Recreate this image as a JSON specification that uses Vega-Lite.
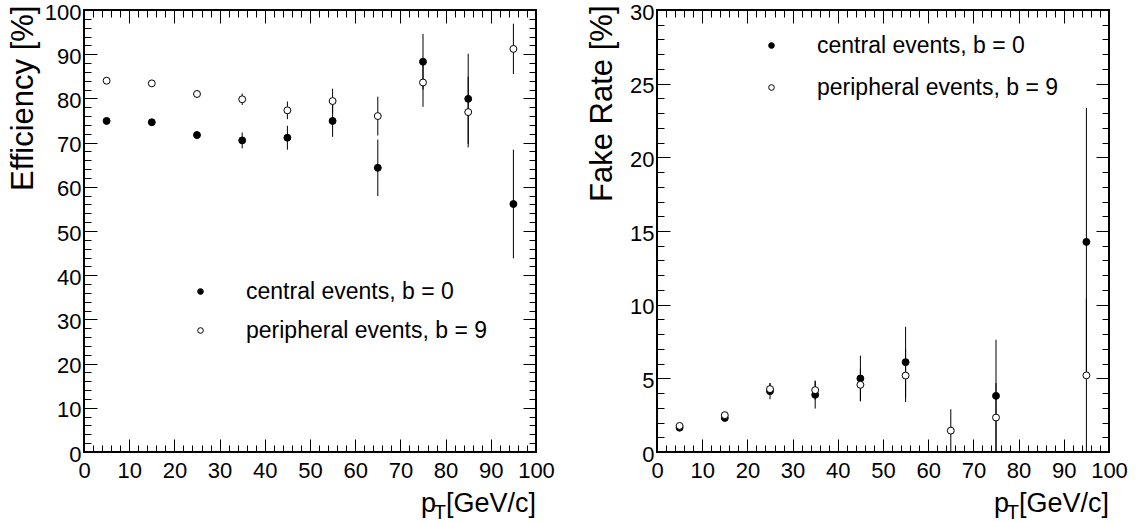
{
  "$schema": "https://vega.github.io/schema/vega-lite/v6.json",
  "background": "white",
  "padding": {"left": 5, "top": 0, "right": 5, "bottom": 5},
  "config": {
    "font": "Liberation Sans",
    "view": {"stroke": "black", "strokeWidth": 2},
    "axis": {"grid": false, "domain": false, "tickColor": "black", "tickWidth": 1, "labelColor": "black", "labelFont": "Liberation Sans", "labelFontSize": 22, "titleFont": "Liberation Sans", "titleFontWeight": "normal", "titleColor": "black", "labelFlush": false, "labelOverlap": false}
  },
  "datasets": {
    "eff": [
      {"pt": 5, "series": "central events, b = 0", "v": 74.9, "lo": 74.3, "hi": 75.5},
      {"pt": 15, "series": "central events, b = 0", "v": 74.6, "lo": 74.0, "hi": 75.2},
      {"pt": 25, "series": "central events, b = 0", "v": 71.7, "lo": 70.9, "hi": 72.5},
      {"pt": 35, "series": "central events, b = 0", "v": 70.5, "lo": 68.7, "hi": 72.3},
      {"pt": 45, "series": "central events, b = 0", "v": 71.1, "lo": 68.4, "hi": 73.8},
      {"pt": 55, "series": "central events, b = 0", "v": 74.9, "lo": 71.3, "hi": 78.5},
      {"pt": 65, "series": "central events, b = 0", "v": 64.3, "lo": 57.9, "hi": 70.7},
      {"pt": 75, "series": "central events, b = 0", "v": 88.3, "lo": 82.0, "hi": 94.6},
      {"pt": 85, "series": "central events, b = 0", "v": 79.9, "lo": 69.7, "hi": 90.1},
      {"pt": 95, "series": "central events, b = 0", "v": 56.1, "lo": 43.8, "hi": 68.4},
      {"pt": 5, "series": "peripheral events, b = 9", "v": 84.0, "lo": 83.5, "hi": 84.5},
      {"pt": 15, "series": "peripheral events, b = 9", "v": 83.4, "lo": 82.8, "hi": 84.0},
      {"pt": 25, "series": "peripheral events, b = 9", "v": 81.0, "lo": 80.2, "hi": 81.8},
      {"pt": 35, "series": "peripheral events, b = 9", "v": 79.8, "lo": 78.5, "hi": 81.1},
      {"pt": 45, "series": "peripheral events, b = 9", "v": 77.3, "lo": 75.3, "hi": 79.3},
      {"pt": 55, "series": "peripheral events, b = 9", "v": 79.4, "lo": 76.6, "hi": 82.2},
      {"pt": 65, "series": "peripheral events, b = 9", "v": 76.0, "lo": 71.6, "hi": 80.4},
      {"pt": 75, "series": "peripheral events, b = 9", "v": 83.6, "lo": 78.1, "hi": 89.1},
      {"pt": 85, "series": "peripheral events, b = 9", "v": 76.9, "lo": 68.9, "hi": 84.9},
      {"pt": 95, "series": "peripheral events, b = 9", "v": 91.2, "lo": 85.5, "hi": 96.9}
    ],
    "fake": [
      {"pt": 5, "series": "central events, b = 0", "v": 1.65, "lo": 1.5, "hi": 1.8},
      {"pt": 15, "series": "central events, b = 0", "v": 2.31, "lo": 2.11, "hi": 2.51},
      {"pt": 25, "series": "central events, b = 0", "v": 4.13, "lo": 3.58, "hi": 4.68},
      {"pt": 35, "series": "central events, b = 0", "v": 3.88, "lo": 2.95, "hi": 4.81},
      {"pt": 45, "series": "central events, b = 0", "v": 4.99, "lo": 3.44, "hi": 6.54},
      {"pt": 55, "series": "central events, b = 0", "v": 6.1, "lo": 3.7, "hi": 8.5},
      {"pt": 75, "series": "central events, b = 0", "v": 3.81, "lo": 0, "hi": 7.62},
      {"pt": 95, "series": "central events, b = 0", "v": 14.26, "lo": 5.16, "hi": 23.36},
      {"pt": 5, "series": "peripheral events, b = 9", "v": 1.77, "lo": 1.62, "hi": 1.92},
      {"pt": 15, "series": "peripheral events, b = 9", "v": 2.5, "lo": 2.3, "hi": 2.7},
      {"pt": 25, "series": "peripheral events, b = 9", "v": 4.27, "lo": 3.87, "hi": 4.67},
      {"pt": 35, "series": "peripheral events, b = 9", "v": 4.2, "lo": 3.55, "hi": 4.85},
      {"pt": 45, "series": "peripheral events, b = 9", "v": 4.56, "lo": 3.46, "hi": 5.66},
      {"pt": 55, "series": "peripheral events, b = 9", "v": 5.19, "lo": 3.39, "hi": 6.99},
      {"pt": 65, "series": "peripheral events, b = 9", "v": 1.45, "lo": 0, "hi": 2.9},
      {"pt": 75, "series": "peripheral events, b = 9", "v": 2.34, "lo": 0, "hi": 4.68},
      {"pt": 95, "series": "peripheral events, b = 9", "v": 5.2, "lo": 0, "hi": 10.4}
    ],
    "xtitle": [{"p": "p", "sub": "T", "unit": "[GeV/c]"}]
  },
  "spacing": 121,
  "bounds": "flush",
  "resolve": {"scale": {"fill": "independent"}, "legend": {"fill": "independent"}},
  "hconcat": [
    {
      "width": 452,
      "height": 442,
      "resolve": {"axis": {"x": "independent", "y": "independent"}},
      "layer": [
        {
          "data": {"name": "eff"},
          "mark": {"type": "rule", "color": "black", "strokeWidth": 1},
          "encoding": {
            "x": {"field": "pt", "type": "quantitative", "scale": {"domain": [0, 100], "nice": false, "zero": false},
              "axis": {"orient": "bottom", "title": null, "values": [0,2,4,6,8,10,12,14,16,18,20,22,24,26,28,30,32,34,36,38,40,42,44,46,48,50,52,54,56,58,60,62,64,66,68,70,72,74,76,78,80,82,84,86,88,90,92,94,96,98,100],
                "tickSize": {"condition": {"test": "datum.value % 10 === 0", "value": -13}, "value": -7},
                "labelExpr": "datum.value % 10 === 0 ? datum.label : ''", "labelPadding": 21}},
            "y": {"field": "lo", "type": "quantitative", "scale": {"domain": [0, 100], "nice": false, "zero": false},
              "axis": {"orient": "left", "values": [0,2,4,6,8,10,12,14,16,18,20,22,24,26,28,30,32,34,36,38,40,42,44,46,48,50,52,54,56,58,60,62,64,66,68,70,72,74,76,78,80,82,84,86,88,90,92,94,96,98,100],
                "tickSize": {"condition": {"test": "datum.value % 10 === 0", "value": -13}, "value": -7},
                "labelExpr": "datum.value % 10 === 0 ? datum.label : ''", "labelPadding": 16, "labelOffset": 2,
                "title": "Efficiency [%]", "titleFontSize": 31, "titleX": -52, "titleY": -5, "titleAlign": "right", "titleAngle": -90, "titleBaseline": "alphabetic"}},
            "y2": {"field": "hi"}
          }
        },
        {
          "data": {"name": "eff"},
          "mark": {"type": "point", "filled": true, "stroke": "black", "strokeWidth": 1, "size": 48, "opacity": 1},
          "encoding": {
            "x": {"field": "pt", "type": "quantitative",
              "axis": {"orient": "top", "title": null, "labels": false, "values": [0,2,4,6,8,10,12,14,16,18,20,22,24,26,28,30,32,34,36,38,40,42,44,46,48,50,52,54,56,58,60,62,64,66,68,70,72,74,76,78,80,82,84,86,88,90,92,94,96,98,100],
                "tickSize": {"condition": {"test": "datum.value % 10 === 0", "value": -13}, "value": -7}}},
            "y": {"field": "v", "type": "quantitative",
              "axis": {"orient": "right", "title": null, "labels": false, "values": [0,2,4,6,8,10,12,14,16,18,20,22,24,26,28,30,32,34,36,38,40,42,44,46,48,50,52,54,56,58,60,62,64,66,68,70,72,74,76,78,80,82,84,86,88,90,92,94,96,98,100],
                "tickSize": {"condition": {"test": "datum.value % 10 === 0", "value": -13}, "value": -7}}},
            "fill": {"field": "series", "type": "nominal",
              "scale": {"domain": ["central events, b = 0", "peripheral events, b = 9"], "range": ["black", "white"]},
              "legend": {"orient": "none", "legendX": 105, "legendY": 270, "title": null, "labelFontSize": 23, "labelFont": "Liberation Sans", "labelColor": "black", "labelLimit": 0, "symbolSize": 32, "symbolType": "circle", "symbolStrokeColor": "black", "symbolStrokeWidth": 1, "labelOffset": 34, "rowPadding": 15, "padding": 0}}
          }
        },
        {
          "data": {"name": "xtitle"},
          "mark": {"type": "text", "align": "right", "baseline": "alphabetic", "fontSize": 27, "dy": 60, "color": "black"},
          "encoding": {"x": {"datum": 100, "type": "quantitative", "axis": null}, "y": {"datum": 0, "type": "quantitative", "axis": null}, "text": {"field": "unit"}}
        },
        {
          "data": {"name": "xtitle"},
          "mark": {"type": "text", "align": "right", "baseline": "alphabetic", "fontSize": 27, "dx": -100, "dy": 60, "color": "black"},
          "encoding": {"x": {"datum": 100, "type": "quantitative", "axis": null}, "y": {"datum": 0, "type": "quantitative", "axis": null}, "text": {"field": "p"}}
        },
        {
          "data": {"name": "xtitle"},
          "mark": {"type": "text", "align": "right", "baseline": "alphabetic", "fontSize": 20, "dx": -90, "dy": 67, "color": "black"},
          "encoding": {"x": {"datum": 100, "type": "quantitative", "axis": null}, "y": {"datum": 0, "type": "quantitative", "axis": null}, "text": {"field": "sub"}}
        }
      ]
    },
    {
      "width": 452,
      "height": 442,
      "resolve": {"axis": {"x": "independent", "y": "independent"}},
      "layer": [
        {
          "data": {"name": "fake"},
          "mark": {"type": "rule", "color": "black", "strokeWidth": 1},
          "encoding": {
            "x": {"field": "pt", "type": "quantitative", "scale": {"domain": [0, 100], "nice": false, "zero": false},
              "axis": {"orient": "bottom", "title": null, "values": [0,2,4,6,8,10,12,14,16,18,20,22,24,26,28,30,32,34,36,38,40,42,44,46,48,50,52,54,56,58,60,62,64,66,68,70,72,74,76,78,80,82,84,86,88,90,92,94,96,98,100],
                "tickSize": {"condition": {"test": "datum.value % 10 === 0", "value": -13}, "value": -7},
                "labelExpr": "datum.value % 10 === 0 ? datum.label : ''", "labelPadding": 21}},
            "y": {"field": "lo", "type": "quantitative", "scale": {"domain": [0, 30], "nice": false, "zero": false},
              "axis": {"orient": "left", "values": [0,1,2,3,4,5,6,7,8,9,10,11,12,13,14,15,16,17,18,19,20,21,22,23,24,25,26,27,28,29,30],
                "tickSize": {"condition": {"test": "datum.value % 5 === 0", "value": -13}, "value": -7},
                "labelExpr": "datum.value % 5 === 0 ? datum.label : ''", "labelPadding": 16, "labelOffset": 2,
                "title": "Fake Rate [%]", "titleFontSize": 31, "titleX": -46, "titleY": -5, "titleAlign": "right", "titleAngle": -90, "titleBaseline": "alphabetic"}},
            "y2": {"field": "hi"}
          }
        },
        {
          "data": {"name": "fake"},
          "mark": {"type": "point", "filled": true, "stroke": "black", "strokeWidth": 1, "size": 48, "opacity": 1},
          "encoding": {
            "x": {"field": "pt", "type": "quantitative",
              "axis": {"orient": "top", "title": null, "labels": false, "values": [0,2,4,6,8,10,12,14,16,18,20,22,24,26,28,30,32,34,36,38,40,42,44,46,48,50,52,54,56,58,60,62,64,66,68,70,72,74,76,78,80,82,84,86,88,90,92,94,96,98,100],
                "tickSize": {"condition": {"test": "datum.value % 10 === 0", "value": -13}, "value": -7}}},
            "y": {"field": "v", "type": "quantitative",
              "axis": {"orient": "right", "title": null, "labels": false, "values": [0,1,2,3,4,5,6,7,8,9,10,11,12,13,14,15,16,17,18,19,20,21,22,23,24,25,26,27,28,29,30],
                "tickSize": {"condition": {"test": "datum.value % 5 === 0", "value": -13}, "value": -7}}},
            "fill": {"field": "series", "type": "nominal",
              "scale": {"domain": ["central events, b = 0", "peripheral events, b = 9"], "range": ["black", "white"]},
              "legend": {"orient": "none", "legendX": 103, "legendY": 24, "title": null, "labelFontSize": 23, "labelFont": "Liberation Sans", "labelColor": "black", "labelLimit": 0, "symbolSize": 32, "symbolType": "circle", "symbolStrokeColor": "black", "symbolStrokeWidth": 1, "labelOffset": 34, "rowPadding": 18, "padding": 0}}
          }
        },
        {
          "data": {"name": "xtitle"},
          "mark": {"type": "text", "align": "right", "baseline": "alphabetic", "fontSize": 27, "dy": 60, "color": "black"},
          "encoding": {"x": {"datum": 100, "type": "quantitative", "axis": null}, "y": {"datum": 0, "type": "quantitative", "axis": null}, "text": {"field": "unit"}}
        },
        {
          "data": {"name": "xtitle"},
          "mark": {"type": "text", "align": "right", "baseline": "alphabetic", "fontSize": 27, "dx": -100, "dy": 60, "color": "black"},
          "encoding": {"x": {"datum": 100, "type": "quantitative", "axis": null}, "y": {"datum": 0, "type": "quantitative", "axis": null}, "text": {"field": "p"}}
        },
        {
          "data": {"name": "xtitle"},
          "mark": {"type": "text", "align": "right", "baseline": "alphabetic", "fontSize": 20, "dx": -90, "dy": 67, "color": "black"},
          "encoding": {"x": {"datum": 100, "type": "quantitative", "axis": null}, "y": {"datum": 0, "type": "quantitative", "axis": null}, "text": {"field": "sub"}}
        }
      ]
    }
  ]
}
